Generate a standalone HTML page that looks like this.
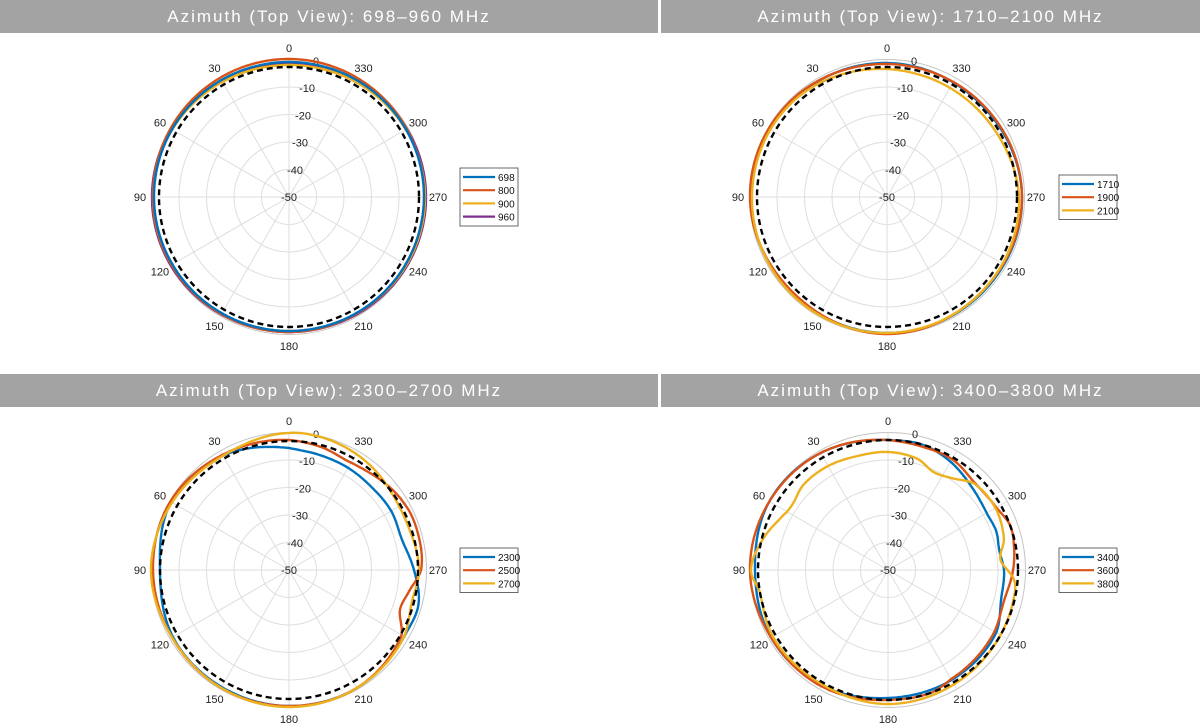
<!DOCTYPE html>
<html><head><meta charset="utf-8">
<style>
body{margin:0;background:#fff;width:1200px;height:728px;overflow:hidden;font-family:"Liberation Sans",sans-serif}
.hdr{position:absolute;height:33px;background:#a3a3a3;color:#fff;font-size:17px;letter-spacing:2px;line-height:34px;text-align:center}
svg{position:absolute;left:0;top:0}
</style></head><body>
<div class="hdr" style="left:0;top:0;width:658px">Azimuth (Top View): 698–960 MHz</div>
<div class="hdr" style="left:661px;top:0;width:539px">Azimuth (Top View): 1710–2100 MHz</div>
<div class="hdr" style="left:0;top:374px;width:658px">Azimuth (Top View): 2300–2700 MHz</div>
<div class="hdr" style="left:661px;top:374px;width:539px">Azimuth (Top View): 3400–3800 MHz</div>
<svg id="s" width="1200" height="728" xmlns="http://www.w3.org/2000/svg"></svg>
<script>
const S=document.getElementById('s');let h='';
const C={b:'#0072BD',o:'#D95319',y:'#EDB120',p:'#7E2F8E'};
function interp(pts,a){pts=pts.slice().sort((p,q)=>p[0]-q[0]);const n=pts.length;
 let i=0;while(i<n-1&&pts[i+1][0]<=a)i++;
 const g=k=>{const m=((k%n)+n)%n;const w=Math.floor(k/n);return [pts[m][0]+360*w,pts[m][1]]};
 let p0=g(i-1),p1=g(i),p2=g(i+1),p3=g(i+2);
 if(a<p1[0]){p0=g(i-2);p1=g(i-1);p2=g(i);p3=g(i+1);}
 const t=(a-p1[0])/(p2[0]-p1[0]);const t2=t*t,t3=t2*t;
 return 0.5*((2*p1[1])+(-p0[1]+p2[1])*t+(2*p0[1]-5*p1[1]+4*p2[1]-p3[1])*t2+(-p0[1]+3*p1[1]-3*p2[1]+p3[1])*t3);}
function curve(cx,cy,pts,col,extra){let d='';for(let a=0;a<=360;a+=1){const r=interp(pts,a%360);const th=a*Math.PI/180;
 d+=(a?'L':'M')+(cx-r*Math.sin(th)).toFixed(1)+' '+(cy-r*Math.cos(th)).toFixed(1);}
 h+=`<path d="${d}Z" fill="none" stroke="${col}" stroke-width="2.4" ${extra||''}/>`;}
function grid(cx,cy){for(let k=1;k<=5;k++)h+=`<circle cx="${cx}" cy="${cy}" r="${k*27.5}" fill="none" stroke="${k==5?'#c4c4c4':'#dedede'}" stroke-width="1"/>`;
 for(let a=0;a<360;a+=30){const th=a*Math.PI/180;h+=`<line x1="${cx}" y1="${cy}" x2="${cx-137.5*Math.sin(th)}" y2="${cy-137.5*Math.cos(th)}" stroke="#dedede"/>`;
  const r=149;h+=`<text x="${cx-r*Math.sin(th)}" y="${cy-r*Math.cos(th)+4}" font-size="11" text-anchor="middle" fill="#222">${a}</text>`;}
 const off=[0,6,11,14,18,27];for(let k=0;k<6;k++)h+=`<text x="${cx+off[k]}" y="${cy-k*27.2+4}" font-size="11" text-anchor="middle" fill="#222">${-50+k*10}</text>`;}
function dashed(cx,cy,r){h+=`<circle cx="${cx}" cy="${cy}" r="${r}" fill="none" stroke="#000" stroke-width="2.4" stroke-dasharray="6,4"/>`;}
function legend(x,y,items){const hh=items.length*13.5+4;h+=`<rect x="${x}" y="${y}" width="58" height="${hh}" fill="#fff" stroke="#444" stroke-width="0.8"/>`;
 items.forEach((it,i)=>{const yy=y+9+i*13.2;h+=`<line x1="${x+3}" y1="${yy}" x2="${x+35}" y2="${yy}" stroke="${it[1]}" stroke-width="2.2"/><text x="${x+38}" y="${yy+4}" font-size="10" fill="#111">${it[0]}</text>`;});}
const ring=(v0,v90,v180,v270)=>[[0,v0],[90,v90],[180,v180],[270,v270]];
let cx=289,cy=197;grid(cx,cy);
curve(cx,cy,ring(134,137,135,137),C.p);
curve(cx,cy,ring(132,136,134,136),C.y);
curve(cx,cy,ring(138,136,135,135),C.o);
curve(cx,cy,ring(135,135,134,135),C.b);
dashed(cx,cy,130);
legend(460,168,[['698',C.b],['800',C.o],['900',C.y],['960',C.p]]);
cx=887;cy=197;grid(cx,cy);
curve(cx,cy,[[0,134],[45,135],[90,136],[135,135],[180,136],[225,135],[270,135],[315,132]],C.b);
curve(cx,cy,[[0,133],[45,136],[90,137],[135,134],[180,137],[225,134],[270,135],[315,133]],C.o);
curve(cx,cy,[[0,128],[45,134],[90,135],[135,136],[180,136],[225,134],[270,132],[300,127],[330,126]],C.y);
dashed(cx,cy,130);
legend(1059,175,[['1710',C.b],['1900',C.o],['2100',C.y]]);
cx=289;cy=570;grid(cx,cy);
curve(cx,cy,[[0,122],[30,132],[60,136],[90,129],[120,134],[150,135],[180,136],[210,136],[240,133],[255,134],[270,125],[285,117],[300,118],[315,117],[330,118],[345,119]],C.b);
curve(cx,cy,[[0,130],[30,133],[60,137],[90,136],[120,135],[150,136],[180,136],[210,136],[240,130],[250,118],[260,122],[270,132],[285,134],[300,133],[330,124],[345,127]],C.o);
curve(cx,cy,[[0,137],[30,132],[60,135],[90,138],[120,135],[150,136],[180,137],[210,136],[240,133],[255,127],[270,130],[290,127],[305,128],[320,132],[335,135],[350,137]],C.y);
dashed(cx,cy,129);
legend(460,548,[['2300',C.b],['2500',C.o],['2700',C.y]]);
cx=888;cy=570;grid(cx,cy);
curve(cx,cy,[[0,130],[30,135],[60,137],[90,133],[120,135],[150,133],[180,128],[210,127],[240,125],[255,117],[270,116],[280,113],[290,115],[300,114],[315,118],[330,125],[345,130]],C.b);
curve(cx,cy,[[0,130],[30,135],[60,137],[90,138],[120,135],[150,134],[180,130],[200,130],[210,126],[240,123],[255,120],[270,125],[280,128],[290,130],[300,125],[315,123],[330,128],[345,128]],C.o);
curve(cx,cy,[[0,118],[15,118],[30,120],[45,120],[55,116],[62,118],[75,128],[90,137],[100,130],[120,133],[150,132],[180,134],[210,132],[240,130],[255,129],[265,127],[275,113],[285,120],[300,124],[315,122],[325,112],[335,108],[345,115]],C.y);
dashed(cx,cy,130);
legend(1059,548,[['3400',C.b],['3600',C.o],['3800',C.y]]);
S.innerHTML=h;
</script>
</body></html>
